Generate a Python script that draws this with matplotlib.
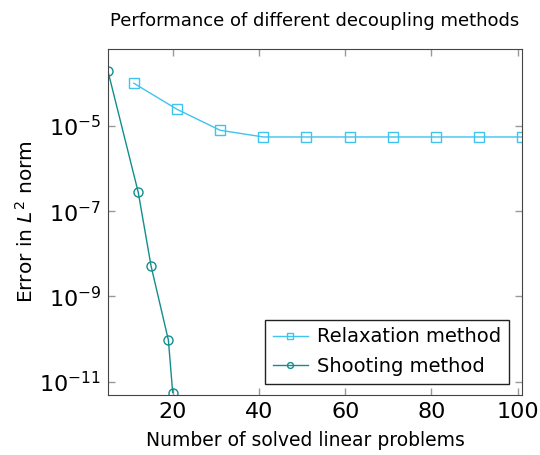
import numpy as np
import matplotlib.pyplot as plt
import matplotlib

matplotlib.rcParams['font.family'] = ['DejaVu Sans']
matplotlib.rcParams['mathtext.fontset'] = 'dejavusans'

# data
relax_n = [11, 21, 31, 41, 51, 61, 71, 81, 91, 101]
relax_err = [1.0e-4, 2.45e-5, 7.9e-6, 5.5e-6, 5.5e-6, 5.5e-6, 5.5e-6, 5.5e-6, 5.5e-6, 5.5e-6]
shoot_n = [5, 12, 15, 19, 20]
shoot_err = [1.9e-4, 2.8e-7, 5.1e-9, 9.5e-11, 5.6e-12]

fig = plt.figure(figsize=(5.4, 4.55), dpi=100)
ax = fig.add_axes([0.2, 0.1319, 0.7667, 0.7601])

ax.plot(relax_n, relax_err, color='#3fc3ef', marker='s', markersize=6.5,
        markerfacecolor='none', markeredgewidth=1.0, linewidth=1.0, label='Relaxation method')
ax.plot(shoot_n, shoot_err, color='#138d8d', marker='o', markersize=6.5,
        markerfacecolor='none', markeredgewidth=1.0, linewidth=1.0, label='Shooting method')

ax.set_yscale('log')
ax.set_xlim(5, 101)
ax.set_ylim(10**-11.31, 10**-3.2)
ax.set_xticks([20, 40, 60, 80, 100])
ax.set_yticks([1e-5, 1e-7, 1e-9, 1e-11])
ax.minorticks_off()
ax.tick_params(direction='in', top=True, right=True, length=5, width=1, color='#999999',
               labelsize=16, pad=5)
for s in ax.spines.values():
    s.set_color('#444444')

ax.set_xlabel('Number of solved linear problems', fontsize=13.5)
ax.xaxis.set_label_coords(0.476, -0.105)
ax.set_ylabel('Error in $L^2$ norm', fontsize=14.5, labelpad=2)
ax.set_title('Performance of different decoupling methods', fontsize=13, pad=17)

leg = ax.legend(loc='lower right', bbox_to_anchor=(0.969, 0.032), fontsize=14,
                fancybox=False, edgecolor='#222222', framealpha=1, borderaxespad=0,
                handlelength=1.8, borderpad=0.4, labelspacing=0.55, markerscale=0.65,
                handletextpad=0.5)
leg.get_frame().set_linewidth(1.0)

fig.savefig('out.png', dpi=100)
